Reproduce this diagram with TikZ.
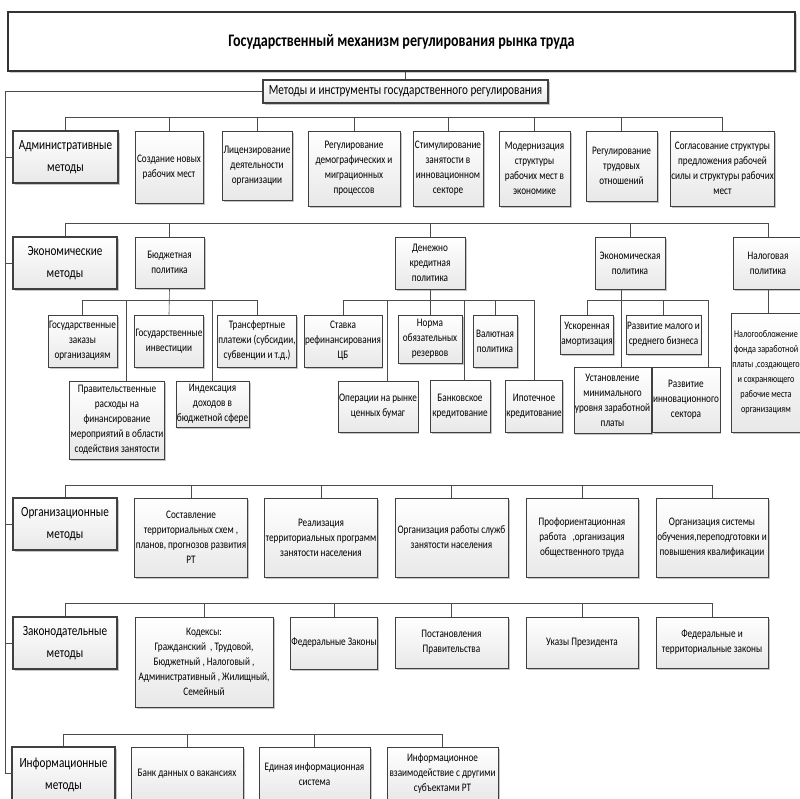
\documentclass[tikz,border=0pt]{standalone}
\usepackage{fontspec}
\setmainfont{Carlito}[FakeStretch=0.8]
\usetikzlibrary{shadows,calc}
\newcommand{\mysubf}{\fontsize{11.5}{15}\selectfont}
\newcommand{\mycatf}{\fontsize{14}{22}\selectfont}
\newcommand{\bx}[7][sub]{\node[#1, minimum width={#4-#2}, minimum height={#5-#3}] (#6) at ({(#2+#4)/2},{(#3+#5)/2}) {#7};}
\tikzset{
  base/.style={draw=black!75, align=center, inner sep=1pt, top color=white, bottom color=black!9,
    drop shadow={shadow xshift=1.5pt, shadow yshift=-1.5pt, fill=black!45}},
  sub/.style={base, line width=0.6pt, font=\mysubf},
  cat/.style={base, line width=1.4pt, font=\mycatf},
  ttl/.style={draw=black!80, line width=2.5pt, fill=white, align=center,
    drop shadow={shadow xshift=1.5pt, shadow yshift=-1.5pt, fill=black!40},
    font=\fontsize{17.6}{20}\selectfont\bfseries},
  mth/.style={base, line width=1.2pt, font=\fontsize{14}{16}\selectfont},
  link/.style={draw=black!70, line width=0.6pt},
}
\begin{document}
\begin{tikzpicture}[x=1pt,y=-1pt]
\fill[white] (0,0) rectangle (800,798);
\useasboundingbox (0,0) rectangle (800,798);
% title and methods
\bx[ttl]{8}{12}{795}{71}{title}{Государственный механизм регулирования рынка труда}
\bx[mth]{263}{80}{548}{103}{meth}{Методы и инструменты государственного регулирования}
% row 1
\bx[cat]{13}{131}{118}{183}{adm}{Административные\\методы}
\bx{135}{131}{203}{203}{b11}{Создание новых\\рабочих мест}
\bx{222}{131}{292}{200}{b12}{Лицензирование\\деятельности\\организации}
\bx{308}{131}{400}{206}{b13}{Регулирование\\демографических и\\миграционных\\процессов}
\bx{413}{131}{483}{206}{b14}{Стимулирование\\занятости в\\инновационном\\секторе}
\bx{499}{131}{570}{206}{b15}{Модернизация\\структуры\\рабочих мест в\\экономике}
\bx{586}{131}{657}{201}{b16}{Регулирование\\трудовых\\отношений}
\bx{672}{131}{773}{206}{b17}{Согласование структуры\\предложения рабочей\\силы и структуры рабочих\\мест}
% row 2
\bx[cat]{13}{237}{117}{289}{eco}{Экономические\\методы}
\bx{135}{237}{204}{288}{bud}{Бюджетная\\политика}
\bx{395}{237}{465}{289}{den}{Денежно\\кредитная\\политика}
\bx{595}{237}{665}{289}{ekp}{Экономическая\\политика}
\bx{733}{237}{803}{289}{nal}{Налоговая\\политика}
\bx{48}{315}{117}{367}{gz}{Государственные\\заказы\\организациям}
\bx{135}{315}{203}{367}{gi}{Государственные\\инвестиции}
\bx{222}{315}{292}{367}{tr}{Трансфертные\\платежи (субсидии,\\субвенции и т.д.)}
\bx{74}{381}{160}{459}{prav}{Правительственные\\расходы на\\финансирование\\мероприятий в области\\содействия занятости}
\bx{178}{381}{247}{427}{ind}{Индексация\\доходов в\\бюджетной сфере}
\bx{308}{315}{378}{367}{st}{Ставка\\рефинансирования\\ЦБ}
\bx{343}{381}{413}{432}{op}{Операции на рынке\\ценных бумаг}
\bx{398}{315}{462}{363}{nrm}{Норма\\обязательных\\резервов}
\bx{430}{380}{490}{432}{bank}{Банковское\\кредитование}
\bx{473}{315}{517}{367}{val}{Валютная\\политика}
\bx{508}{380}{560}{432}{ip}{Ипотечное\\кредитование}
\bx{561}{315}{613}{354}{usk}{Ускоренная\\амортизация}
\bx{629}{315}{698}{354}{rm}{Развитие малого и\\среднего бизнеса}
\bx{578}{367}{647}{433}{ust}{Установление\\минимального\\уровня заработной\\платы}
\bx{655}{367}{717}{432}{ri}{Развитие\\инновационного\\сектора}
\bx[sub, font=\fontsize{10.2}{15}\selectfont]{733}{313}{799}{432}{nlg}{Налогообложение\\фонда заработной\\платы ,создающего\\и сохраняющего\\рабочие места\\организациям}
% row 3
\bx[cat]{13}{498}{117}{550}{org}{Организационные\\методы}
\bx{135}{498}{247}{577}{s1}{Составление\\территориальных схем ,\\планов, прогнозов развития\\РТ}
\bx{265}{498}{377}{577}{s2}{Реализация\\территориальных программ\\занятости населения}
\bx{395}{498}{508}{577}{s3}{Организация работы служб\\занятости населения}
\bx{526}{498}{638}{577}{s4}{Профориентационная\\работа \ \ ,организация\\общественного труда}
\bx{656}{498}{768}{577}{s5}{Организация системы\\обучения,переподготовки и\\повышения квалификации}
% row 4
\bx[cat]{13}{617}{117}{669}{leg}{Законодательные\\методы}
\bx{135}{617}{273}{707}{k}{Кодексы:\\Гражданский \ , Трудовой,\\Бюджетный , Налоговый ,\\Административный , Жилищный,\\Семейный}
\bx{291}{617}{377}{669}{fz}{Федеральные Законы}
\bx{395}{617}{508}{668}{pp}{Постановления\\Правительства}
\bx{526}{617}{638}{668}{up}{Указы Президента}
\bx{656}{617}{768}{668}{ft}{Федеральные и\\территориальные законы}
% row 5
\bx[cat]{12}{747}{115}{803}{inf}{Информационные\\методы}
\bx{131}{747}{243}{801}{bd}{Банк данных о вакансиях}
\bx{259}{747}{370}{801}{ei}{Единая информационная\\система}
\bx{387}{747}{498}{801}{iv}{Информационное\\взаимодействие с другими\\субъектами РТ}
% connectors: top
\draw[link] (meth.north) -- (meth.north |- title.south);
\coordinate (tx) at (5,0);
\coordinate (infin) at (12,773);
\draw[link] (meth.west) -| (infin -| tx) -- (infin);
\foreach \n in {adm,eco,org,leg} \draw[link] (\n.west) -- (\n.west -| tx);
% row 1
\coordinate (bus1) at (0,117);
\draw[link] (adm.north) -- (adm.north |- bus1) -| (b17.north);
\foreach \n in {b11,b12,b13,b14,b15,b16} \draw[link] (\n.north) -- (\n.north |- bus1);
% row 2
\coordinate (bus2) at (0,223);
\draw[link] (eco.north) -- (eco.north |- bus2) -| (nal.north);
\foreach \n in {bud,den,ekp} \draw[link] (\n.north) -- (\n.north |- bus2);
\coordinate (sb) at (0,300);
\draw[link] (bud.south) -- (gi.north);
\draw[link] (gz.north) -- (gz.north |- sb) -| (tr.north);
\coordinate (pd) at (126,300);
\draw[link] (pd) -- (pd |- prav.north);
\draw[link] (ind.north) -- (ind.north |- sb);
\draw[link] (st.north) -- (st.north |- sb) -| (ip.north);
\draw[link] (den.south) -- (nrm.north);
\coordinate (opd) at (387,300);
\draw[link] (opd) -- (opd |- op.north);
\coordinate (bkd) at (464,300);
\draw[link] (bkd) -- (bkd |- bank.north);
\draw[link] (val.north) -- (val.north |- sb);
\coordinate (rid) at (708,300);
\coordinate (ekd) at (621,300);
\draw[link] (usk.north) -- (usk.north |- sb) -| (rid) -- (rid |- ri.north);
\draw[link] (ekp.south -| ekd) -- (ekd |- ust.north);
\draw[link] (rm.north) -- (rm.north |- sb);
\draw[link] (nal.south) -- (nal.south |- nlg.north);
% row 3
\coordinate (bus3) at (0,485);
\draw[link] (org.north) -- (org.north |- bus3) -| (s5.north);
\foreach \n in {s1,s2,s3,s4} \draw[link] (\n.north) -- (\n.north |- bus3);
% row 4
\coordinate (bus4) at (0,603);
\draw[link] (leg.north) -- (leg.north |- bus4) -| (ft.north);
\foreach \n in {k,fz,pp,up} \draw[link] (\n.north) -- (\n.north |- bus4);
% row 5
\coordinate (bus5) at (0,734);
\draw[link] (inf.north) -- (inf.north |- bus5) -| (iv.north);
\foreach \n in {bd,ei} \draw[link] (\n.north) -- (\n.north |- bus5);
\end{tikzpicture}
\end{document}
